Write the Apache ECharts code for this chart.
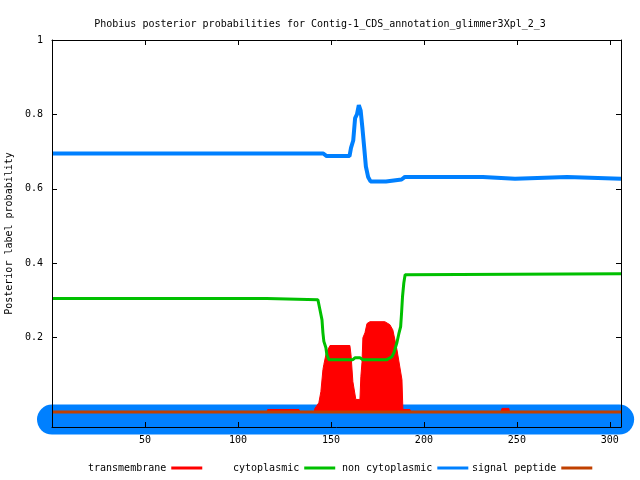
<!DOCTYPE html>
<html>
<head>
<meta charset="utf-8">
<script src="https://cdn.jsdelivr.net/npm/echarts@6/dist/echarts.min.js"></script>
<style>html,body{margin:0;padding:0;background:#fff}#c{width:640px;height:480px}</style>
</head>
<body>
<div id="c"></div>
<script>
// ---- data ----
const titleText = "Phobius posterior probabilities for Contig-1_CDS_annotation_glimmer3Xpl_2_3";
const yLabel = "Posterior label probability";
const xTicks = [50, 100, 150, 200, 250, 300];
const yTicks = [0.2, 0.4, 0.6, 0.8, 1];
const seqLength = 306;

const nonCytoX = [0, 145.9, 147.7, 160, 160.8, 162, 163, 164, 165, 166, 167, 168, 168.8, 170, 171.3, 179.6, 180, 188, 189.8, 231.7, 232.2, 249, 249.5, 277, 277.5, 306];
const nonCytoY = [0.695, 0.695, 0.688, 0.688, 0.71, 0.73, 0.79, 0.80, 0.825, 0.81, 0.76, 0.705, 0.66, 0.632, 0.62, 0.62, 0.622, 0.625, 0.632, 0.632, 0.627, 0.627, 0.632, 0.632, 0.627, 0.627];

const cytoX = [0, 115.5, 116, 143, 144.1, 145.2, 145.7, 146.2, 147.3, 147.8, 148.9, 161.8, 162.9, 165.6, 167.2, 180.1, 182.8, 183.9, 185.5, 186.5, 187.5, 188, 188.5, 189.2, 189.9, 190.7, 306];
const cytoY = [0.305, 0.305, 0.302, 0.302, 0.275, 0.248, 0.213, 0.19, 0.173, 0.155, 0.141, 0.141, 0.146, 0.146, 0.141, 0.141, 0.149, 0.16, 0.187, 0.21, 0.23, 0.267, 0.31, 0.347, 0.369, 0.372, 0.372];

const tmX = [0, 115.6, 116, 132.8, 133.3, 141, 141.4, 143.5, 144.6, 145.7, 146.2, 147.3, 148.4, 149.5, 160.2, 160.8, 161.8, 163.4, 165.6, 166.1, 166.7, 167.2, 168.3, 169.4, 171, 179, 181.7, 183.3, 185.5, 188.2, 188.7, 192.5, 193, 241.4, 242, 245.7, 246, 306];
const tmY = [0, 0, 0.007, 0.007, 0, 0, 0.01, 0.025, 0.055, 0.114, 0.128, 0.154, 0.168, 0.179, 0.179, 0.154, 0.082, 0.034, 0.034, 0.095, 0.133, 0.2, 0.213, 0.238, 0.243, 0.243, 0.235, 0.221, 0.168, 0.087, 0.007, 0.007, 0, 0, 0.01, 0.01, 0, 0];

const spX = [0, 306];
const spY = [0, 0];

// topology track (non cytoplasmic over the whole sequence)
const topoX = [0, 305];
const topoY = [-0.02, -0.02];

const colTM = '#ff0000', colCyto = '#00c000', colNon = '#0080ff', colSP = '#c04000';
const FONT = 'DejaVu Sans Mono';

const pairs = (xs, ys) => xs.map((x, i) => [x, ys[i]]);

const chart = echarts.init(document.getElementById('c'), null, {renderer: 'canvas'});

const axisLineStyle = {show: true, onZero: false, lineStyle: {color: '#000', width: 1}};
const legendBase = {
  top: 463, orient: 'horizontal', align: 'right', icon: 'rect', padding: 0,
  itemWidth: 31, itemHeight: 3, itemGap: 0,
  textStyle: {fontFamily: FONT, fontSize: 10, color: '#000'},
  selectedMode: false
};

chart.setOption({
  animation: false,
  backgroundColor: '#fff',
  title: {
    text: titleText, left: 'center', top: 14,
    textStyle: {fontFamily: FONT, fontSize: 10, fontWeight: 'normal', color: '#000'}
  },
  legend: [
    Object.assign({}, legendBase, {left: 88, data: ['transmembrane']}),
    Object.assign({}, legendBase, {left: 233, data: ['cytoplasmic']}),
    Object.assign({}, legendBase, {left: 342, data: ['non cytoplasmic']}),
    Object.assign({}, legendBase, {left: 472, data: ['signal peptide']})
  ],
  grid: {left: 52, right: 19, top: 40, bottom: 53, show: false, containLabel: false, outerBoundsMode: 'none'},
  xAxis: [
    {
      type: 'value', position: 'bottom', min: 0, max: seqLength, z: 10,
      axisLine: axisLineStyle,
      axisTick: {show: true, inside: true, length: 5, customValues: xTicks, lineStyle: {color: '#000'}},
      axisLabel: {customValues: xTicks, margin: 8, fontFamily: FONT, fontSize: 10, color: '#000'},
      splitLine: {show: false}
    },
    {
      type: 'value', position: 'top', min: 0, max: seqLength, z: 10,
      axisLine: axisLineStyle,
      axisTick: {show: true, inside: true, length: 5, customValues: xTicks, lineStyle: {color: '#000'}},
      axisLabel: {show: false},
      splitLine: {show: false}
    }
  ],
  yAxis: [
    {
      type: 'value', position: 'left', min: -0.04, max: 1, z: 10,
      name: yLabel, nameLocation: 'middle', nameGap: 34, nameRotate: 90,
      nameTextStyle: {fontFamily: FONT, fontSize: 10, color: '#000'},
      axisLine: axisLineStyle,
      axisTick: {show: true, inside: true, length: 5, customValues: yTicks, lineStyle: {color: '#000'}},
      axisLabel: {customValues: yTicks, margin: 9, fontFamily: FONT, fontSize: 10, color: '#000',
        formatter: v => String(Math.round(v * 10) / 10)},
      splitLine: {show: false}
    },
    {
      type: 'value', position: 'right', min: -0.04, max: 1, z: 10,
      axisLine: axisLineStyle,
      axisTick: {show: true, inside: true, length: 5, customValues: yTicks, lineStyle: {color: '#000'}},
      axisLabel: {show: false},
      splitLine: {show: false}
    }
  ],
  series: [
    {
      name: 'topology', type: 'line', z: 1, clip: false, silent: true,
      data: pairs(topoX, topoY), showSymbol: false, symbol: 'none',
      lineStyle: {color: colNon, width: 30, cap: 'round'}
    },
    {
      name: 'transmembrane', type: 'line', z: 2, data: pairs(tmX, tmY),
      showSymbol: false, symbol: 'none', color: colTM,
      lineStyle: {color: colTM, width: 1},
      areaStyle: {color: colTM, opacity: 1}
    },
    {
      name: 'signal peptide', type: 'line', z: 3, data: pairs(spX, spY),
      showSymbol: false, symbol: 'none', color: colSP,
      lineStyle: {color: colSP, width: 3}
    },
    {
      name: 'cytoplasmic', type: 'line', z: 4, data: pairs(cytoX, cytoY),
      showSymbol: false, symbol: 'none', color: colCyto,
      lineStyle: {color: colCyto, width: 3}
    },
    {
      name: 'non cytoplasmic', type: 'line', z: 5, data: pairs(nonCytoX, nonCytoY),
      showSymbol: false, symbol: 'none', color: colNon,
      lineStyle: {color: colNon, width: 4}
    }
  ]
});
</script>
</body>
</html>
